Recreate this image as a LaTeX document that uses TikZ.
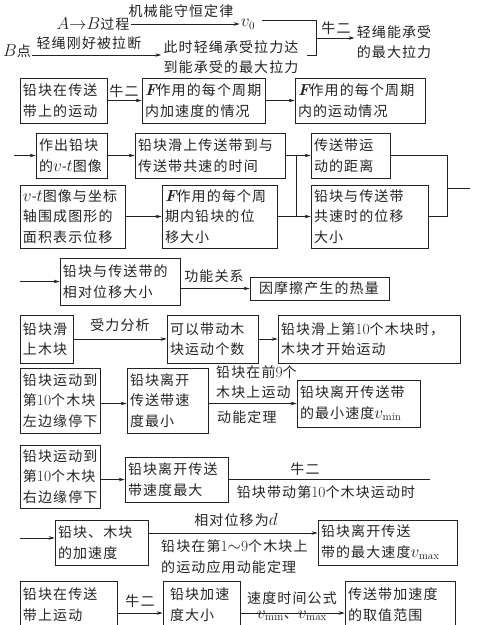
\documentclass[tikz,border=0pt]{standalone}
\usepackage{fontspec}
\usetikzlibrary{arrows.meta,calc}
\newfontfamily\cjk[LetterSpace=8]{Noto Sans CJK SC}
\newcommand\latn[1]{{\rmfamily\fontsize{15.5}{20.5}\selectfont #1}}
\newcommand\mth[1]{{\fontsize{16}{20.5}\selectfont$#1$}}
\newcommand\bF{{\rmfamily\bfseries\itshape\fontsize{16}{20.5}\selectfont F}}
\definecolor{ink}{RGB}{35,35,35}
\begin{document}
\begin{tikzpicture}[x=1pt,y=-1pt,
  every node/.style={font={\cjk\fontsize{14}{20.5}\selectfont}, text=ink},
  bx/.style={draw=ink, line width=0.7pt, align=left, inner xsep=3pt, inner ysep=0pt},
  lbl/.style={inner sep=0pt, align=left},
  arr/.style={draw=ink, line width=0.7pt, -{Stealth[length=6pt,width=3.5pt]}},
  ln/.style={draw=ink, line width=0.7pt}]
\useasboundingbox (0,0) rectangle (479,625);

% ---------- Row 1 ----------
\node[lbl, inner xsep=1pt] (AB) at (93,24) {\mth{A{\rightarrow}B}过程};
\node[lbl] (L1) at (181,11) {机械能守恒定律};
\node[lbl, inner xsep=1pt] (v0) at (248,24) {\mth{v_0}};
\draw[arr] (AB.east) -- (AB.east -| v0.west);
\coordinate (j1t) at (316,20);
\coordinate (j1b) at (316,55);
\coordinate (j1m) at (316,38);
\coordinate (j1s) at (307,55);
\draw[ln] ([xshift=6pt]v0.east |- j1t) -- (j1t) -- (j1b) -- (j1s);
\node[lbl, inner xsep=2pt] (maxF) at (394,42) {轻绳能承受\\的最大拉力};
\draw[arr] (j1m) -- (maxF.west |- j1m);
\node[lbl] (N1) at (336,28) {牛二};
\node[lbl, inner xsep=1pt] (Bpt) at (17,51) {\mth{B}点};
\node[lbl, inner xsep=2pt] (cishi) at (231,57) {此时轻绳承受拉力达\\到能承受的最大拉力};
\coordinate (a1) at (0,55);
\draw[arr] (Bpt.east |- a1) -- (cishi.west |- a1);
\node[lbl] (L2) at (89,43) {轻绳刚好被拉断};

% ---------- Row 2 ----------
\node[bx, minimum width=87pt, text width=81pt, minimum height=45pt] (b1) at (63.5,100.5) {铅块在传送\\带上的运动};
\node[bx, minimum width=123pt, text width=117pt, minimum height=45pt] (b2) at (203.5,100.5) {\bF{}作用的每个周期\\内加速度的情况};
\node[bx, minimum width=130pt, text width=124pt, minimum height=45pt] (b3) at (360,100.5) {\bF{}作用的每个周期\\内的运动情况};
\draw[arr] (b1.east) -- (b2.west);
\node[lbl] (N2) at (124,91) {牛二};
\draw[arr] (b2.east) -- (b3.west);

% ---------- Row 3 ----------
\coordinate (in3) at (14,155.5);
\node[bx, minimum width=71pt, text width=65pt, minimum height=45pt] (b4) at (71.5,155.5) {作出铅块\\的\mth{v}-\mth{t}图像};
\node[bx, minimum width=150pt, text width=144pt, minimum height=45pt] (b5) at (210,155.5) {铅块滑上传送带到与\\传送带共速的时间};
\node[bx, minimum width=79pt, text width=73pt, minimum height=45pt] (b6) at (350.5,155.5) {传送带运\\动的距离};
\draw[arr] (in3) -- (b4.west);
\draw[arr] (b4.east) -- (b5.west);
\draw[arr] (b5.east) -- (b6.west);

% ---------- Row 4 ----------
\node[bx, minimum width=105pt, text width=99pt, minimum height=63pt] (b7) at (72.5,216.5) {\mth{v}-\mth{t}图像与坐标\\轴围成图形的\\面积表示位移};
\node[bx, minimum width=115pt, text width=109pt, minimum height=63pt] (b8) at (219.5,216.5) {\bF{}作用的每个周\\期内铅块的位\\移大小};
\node[bx, minimum width=117pt, text width=111pt, minimum height=63pt] (b9) at (369.5,216.5) {铅块与传送带\\共速时的位移\\大小};
\draw[arr] (b7.east) -- (b8.west);
\draw[arr] (b8.east) -- (b9.west);
\coordinate (jx1) at (296,155.5);
\coordinate (jx2) at (296,216.5);
\draw[ln] (jx1) -- (jx2);
\coordinate (rt) at (447,155.5);
\coordinate (rb) at (447,216.5);
\coordinate (rm) at (447,188);
\coordinate (rout) at (470,188);
\draw[ln] (b6.east) -- (rt) -- (rb) -- (b9.east);
\draw[ln] (rm) -- (rout);

% ---------- Row 5 ----------
\coordinate (in5) at (20,281.5);
\node[bx, minimum width=120pt, text width=114pt, minimum height=47pt] (b10) at (120,281.5) {铅块与传送带的\\相对位移大小};
\node[bx, minimum width=139pt, text width=133pt, minimum height=23pt] (b11) at (319.5,288.5) {\hspace*{6pt}因摩擦产生的热量};
\draw[arr] (in5) -- (b10.west);
\draw[arr] (b10.east |- b11.west) -- (b11.west);
\node[lbl] (L5) at (214,276) {功能关系};

% ---------- Row 6 ----------
\node[bx, minimum width=53pt, text width=47pt, minimum height=48pt] (b12) at (46.5,339) {铅块滑\\上木块};
\node[bx, minimum width=91pt, text width=85pt, minimum height=48pt] (b13) at (212.5,339) {可以带动木\\块运动个数};
\node[bx, minimum width=182pt, text width=176pt, minimum height=48pt] (b14) at (369,339) {铅块滑上第\latn{10}个木块时，\\木块才开始运动};
\draw[arr] (b12.east) -- (b13.west);
\draw[arr] (b13.east) -- (b14.west);
\node[lbl] (L6) at (120,325) {受力分析};

% ---------- Row 7 ----------
\node[bx, minimum width=80pt, text width=74pt, minimum height=65pt] (b15) at (60,400.5) {铅块运动到\\第\latn{10}个木块\\左边缘停下};
\node[bx, minimum width=81pt, text width=75pt, minimum height=65pt] (b16) at (167.5,400.5) {铅块离开\\传送带速\\度最小};
\node[bx, minimum width=123pt, text width=117pt, minimum height=47pt] (b17) at (358.5,403.5) {铅块离开传送带\\的最小速度\mth{v_{\min}}};
\draw[arr] (b15.east |- b17.west) -- (b16.west |- b17.west);
\draw[arr] (b16.east |- b17.west) -- (b17.west);
\node[lbl, anchor=west] (L7a) at (216,382) {铅块在前\latn{9}个\\木块上运动};
\node[lbl, anchor=west] (L7b) at (217,417) {动能定理};

% ---------- Row 8 ----------
\node[bx, minimum width=80pt, text width=74pt, minimum height=63pt] (b18) at (60,476.5) {铅块运动到\\第\latn{10}个木块\\右边缘停下};
\node[bx, minimum width=103pt, text width=97pt, minimum height=45pt] (b19) at (176.5,479.5) {铅块离开传送\\带速度最大};
\draw[arr] (b18.east |- b19.west) -- (b19.west);
\coordinate (e8) at (430,479.5);
\draw[ln] (b19.east) -- (e8);
\node[lbl] (N8) at (305,469) {牛二};
\node[lbl] (L8) at (326,492) {铅块带动第\latn{10}个木块运动时};

% ---------- Row 9 ----------
\coordinate (in9) at (20,538);
\node[bx, minimum width=93pt, text width=87pt, minimum height=45pt] (b20) at (101.5,542.5) {铅块、木块\\的加速度};
\node[bx, minimum width=139pt, text width=133pt, minimum height=45pt] (b21) at (387.5,542.5) {铅块离开传送\\带的最大速度\mth{v_{\max}}};
\draw[arr] (in9) -- (b20.west |- in9);
\coordinate (a9) at (148,533);
\draw[arr] (b20.east |- a9) -- (b21.west |- a9);
\node[lbl] (L9a) at (236,520) {相对位移为\mth{d}};
\node[lbl, anchor=west] (L9b) at (161,556.5) {铅块在第\latn{1}\mth{\sim}\latn{9}个木块上\\的运动应用动能定理};

% ---------- Row 10 ----------
\node[bx, minimum width=97pt, text width=91pt, minimum height=47pt] (b22) at (68.5,604.5) {铅块在传送\\带上运动};
\node[bx, minimum width=77pt, text width=71pt, minimum height=47pt] (b23) at (201.5,604.5) {\hspace*{4pt}铅块加速\\\hspace*{4pt}度大小};
\node[bx, minimum width=110pt, text width=104pt, minimum height=47pt] (b24) at (400,604.5) {传送带加速度\\的取值范围};
\coordinate (a10) at (0,613);
\draw[arr] (b22.east |- a10) -- (b23.west |- a10);
\draw[arr] (b23.east |- a10) -- (b24.west |- a10);
\node[lbl] (N10) at (140,601) {牛二};
\node[lbl] (L10a) at (292,598) {速度时间公式};
\node[lbl] (L10b) at (292,616) {\mth{v_{\min}}、\mth{v_{\max}}};
\end{tikzpicture}
\end{document}
